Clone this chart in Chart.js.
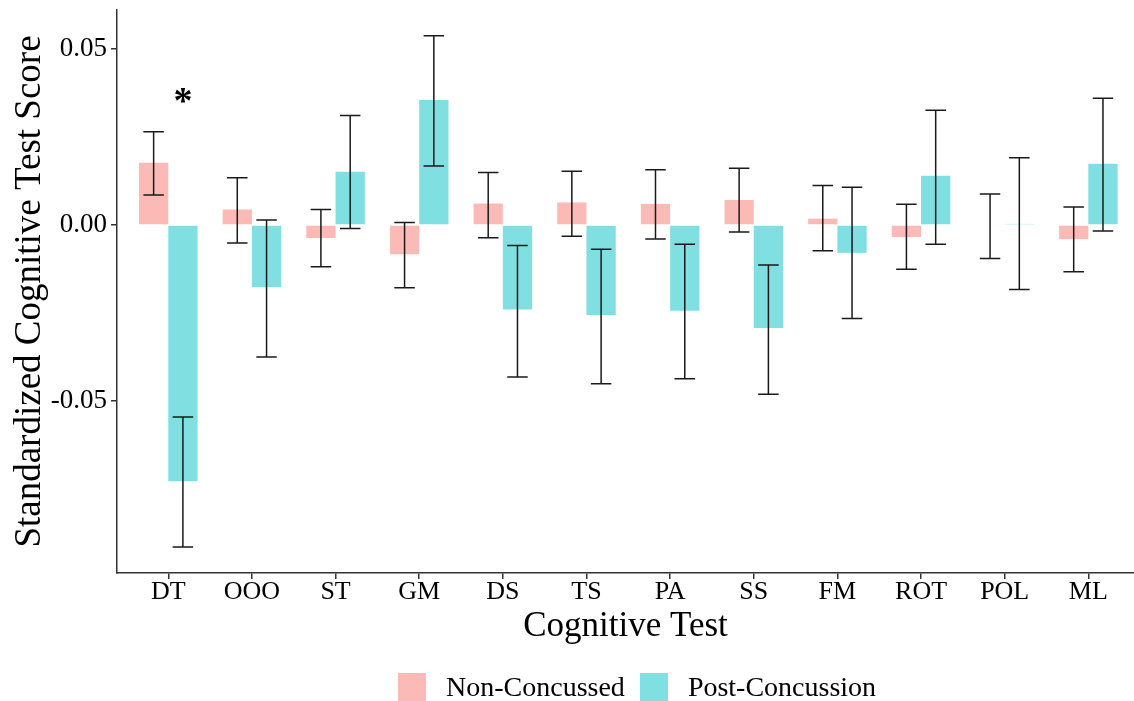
<!DOCTYPE html>
<html>
<head>
<meta charset="utf-8">
<script src="https://cdn.jsdelivr.net/npm/chart.js@4"></script>
<style>
  html, body { margin: 0; padding: 0; background: #fff; }
  #wrap { position: relative; width: 1134px; height: 701px; overflow: hidden; }
  #legend {
    position: absolute; left: 398px; top: 673px; height: 28px;
    display: flex; align-items: center;
    font-family: "Liberation Serif", "Times New Roman", serif; font-size: 28px; color: #000;
  }
  .key { width: 28px; height: 28px; margin-right: 20px; flex: none; }
  .lab { margin-right: 15px; white-space: nowrap; }
</style>
</head>
<body>
<div id="wrap">
  <canvas id="chart" width="1134" height="701"></canvas>
  <div id="legend">
    <span class="key" style="background: rgba(248,118,109,0.5)"></span><span class="lab">Non-Concussed</span>
    <span class="key" style="background: rgba(0,191,196,0.5)"></span><span class="lab">Post-Concussion</span>
  </div>
</div>
<script>
  // cognitive tests (x categories)
  var tests = ["DT", "OOO", "ST", "GM", "DS", "TS", "PA", "SS", "FM", "ROT", "POL", "ML"];

  // Non-Concussed group: mean and error bar ends
  var nonConcussed = [0.0177, 0.0044, -0.0037, -0.0083, 0.0061, 0.0064, 0.0060, 0.0071, 0.0018, -0.0034, 0.0000, -0.0040];
  var nonLow  = [0.0085, -0.0051, -0.0119, -0.0178, -0.0036, -0.0032, -0.0040, -0.0020, -0.0073, -0.0126, -0.0095, -0.0133];
  var nonHigh = [0.0265, 0.0134, 0.0044, 0.0007, 0.0149, 0.0153, 0.0157, 0.0161, 0.0112, 0.0059, 0.0088, 0.0051];

  // Post-Concussion group
  var postConcussion = [-0.0728, -0.0176, 0.0151, 0.0355, -0.0240, -0.0256, -0.0244, -0.0293, -0.0079, 0.0140, 0.0003, 0.0174];
  var postLow  = [-0.0915, -0.0375, -0.0010, 0.0168, -0.0432, -0.0451, -0.0437, -0.0481, -0.0266, -0.0055, -0.0183, -0.0017];
  var postHigh = [-0.0546, 0.0014, 0.0311, 0.0538, -0.0058, -0.0069, -0.0055, -0.0114, 0.0107, 0.0326, 0.0191, 0.0360];

  var yTicks = [-0.05, 0, 0.05];

  // significance mark
  var starTest = "DT";
  var starValue = 0.0318;

  var serif = "'Liberation Serif', 'Times New Roman', serif";
  var axisColor = "#333";

  function points(values) {
    return values.map(function (v, i) { return { x: i + 1, y: v }; });
  }

  var errorBars = {
    id: "errorBars",
    afterDatasetsDraw: function (chart) {
      var ctx = chart.ctx;
      var y = chart.scales.y;
      var ranges = [[nonLow, nonHigh], [postLow, postHigh]];
      ctx.save();
      ctx.strokeStyle = "#1a1a1a";
      ctx.lineWidth = 1.5;
      ranges.forEach(function (r, d) {
        chart.getDatasetMeta(d).data.forEach(function (bar, i) {
          var half = bar.width * 0.35;
          var top = y.getPixelForValue(r[1][i]);
          var bot = y.getPixelForValue(r[0][i]);
          ctx.beginPath();
          ctx.moveTo(bar.x, top); ctx.lineTo(bar.x, bot);
          ctx.moveTo(bar.x - half, top); ctx.lineTo(bar.x + half, top);
          ctx.moveTo(bar.x - half, bot); ctx.lineTo(bar.x + half, bot);
          ctx.stroke();
        });
      });
      var star = chart.getDatasetMeta(1).data[tests.indexOf(starTest)];
      ctx.fillStyle = "#000";
      ctx.font = "bold 38px " + serif;
      ctx.textAlign = "center";
      ctx.textBaseline = "alphabetic";
      ctx.fillText("*", star.x, y.getPixelForValue(starValue));
      ctx.restore();
    }
  };

  new Chart(document.getElementById("chart").getContext("2d"), {
    type: "bar",
    data: {
      datasets: [
        {
          label: "Non-Concussed",
          data: points(nonConcussed),
          backgroundColor: "rgba(248,118,109,0.5)",
          borderWidth: 0,
          categoryPercentage: 0.7,
          barPercentage: 1.0
        },
        {
          label: "Post-Concussion",
          data: points(postConcussion),
          backgroundColor: "rgba(0,191,196,0.5)",
          borderWidth: 0,
          categoryPercentage: 0.7,
          barPercentage: 1.0
        }
      ]
    },
    options: {
      responsive: false,
      animation: false,
      layout: { padding: { top: 10, right: 0, bottom: 53, left: 0 } },
      plugins: { legend: { display: false }, tooltip: { enabled: false } },
      scales: {
        x: {
          type: "linear",
          min: 0.387,
          max: 12.546,
          offset: false,
          afterBuildTicks: function (scale) {
            scale.ticks = tests.map(function (t, i) { return { value: i + 1 }; });
          },
          afterFit: function (scale) {
            scale.height = 75;
            scale.paddingLeft = 0;
            scale.paddingRight = 0;
          },
          ticks: {
            color: "#000",
            padding: 0,
            font: { family: serif, size: 26, lineHeight: 1 },
            callback: function (v) { return tests[Math.round(v) - 1]; }
          },
          grid: { offset: false, drawOnChartArea: false, tickLength: 6, color: axisColor, lineWidth: 1.5 },
          border: { display: true, color: axisColor, width: 1.5 },
          title: {
            display: true,
            text: "Cognitive Test",
            color: "#000",
            font: { family: serif, size: 35, lineHeight: 1.2 },
            padding: { top: 0, bottom: 0 }
          }
        },
        y: {
          min: -0.0989,
          max: 0.0611,
          afterBuildTicks: function (scale) {
            scale.ticks = yTicks.map(function (v) { return { value: v }; });
          },
          afterFit: function (scale) {
            scale.width = 117;
            scale.paddingTop = 0;
            scale.paddingBottom = 0;
          },
          ticks: {
            color: "#000",
            padding: 4,
            font: { family: serif, size: 27 },
            callback: function (v) { return v.toFixed(2); }
          },
          grid: { drawOnChartArea: false, tickLength: 6, color: axisColor, lineWidth: 1.5 },
          border: { display: true, color: axisColor, width: 1.5 },
          title: {
            display: true,
            text: "Standardized Cognitive Test Score",
            color: "#000",
            font: { family: serif, size: 37, lineHeight: 1.2 },
            padding: { top: 8, bottom: 0 }
          }
        }
      }
    },
    plugins: [errorBars]
  });
</script>
</body>
</html>
